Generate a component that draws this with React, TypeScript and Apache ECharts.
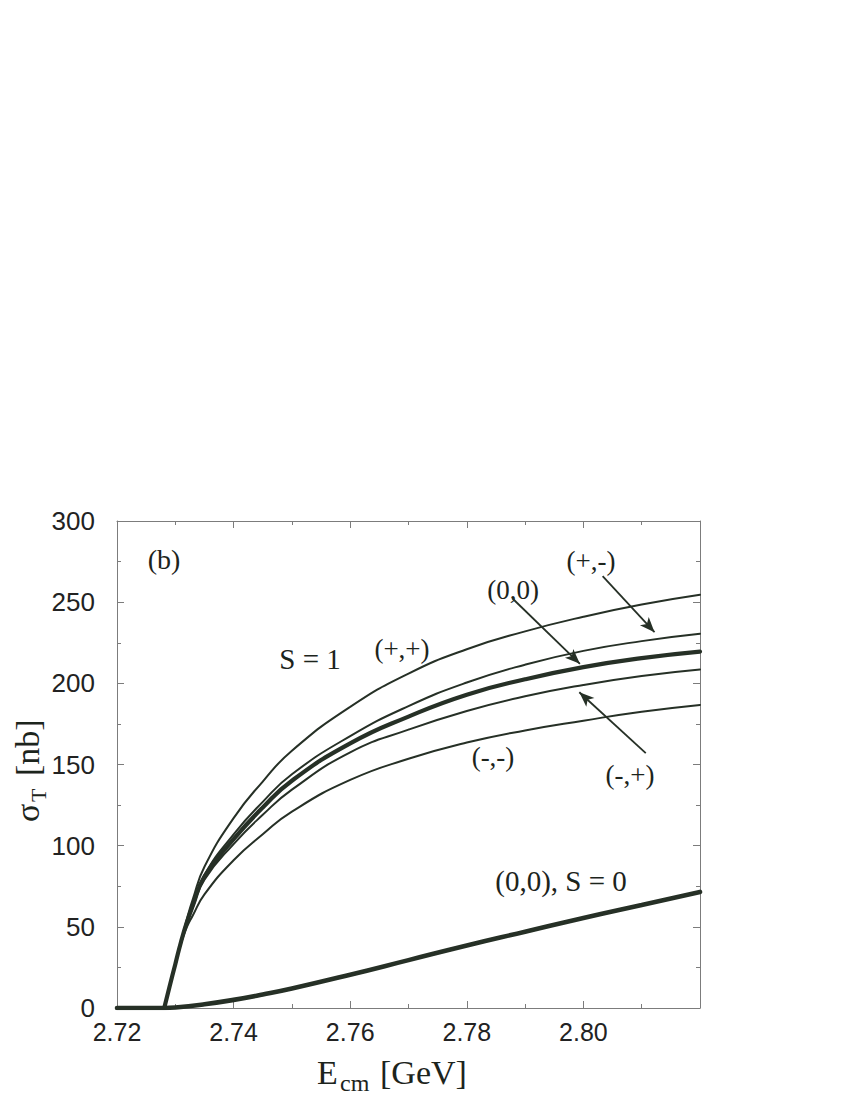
import React, { useEffect, useRef } from "react";
import * as echarts from "echarts";

// E_cm [GeV] sample points for the S = 1 curves (they start at threshold)
const energyS1 = [2.7281, 2.729, 2.73, 2.731, 2.732, 2.733, 2.735, 2.74, 2.745, 2.75, 2.76, 2.77, 2.78, 2.79, 2.8, 2.81, 2.82];
// sigma_T [nb] for each S = 1 curve
const sigmaPlusPlus = [0, 13, 27, 41, 55, 67, 87, 117, 139.5, 158.5, 185.5, 206, 221, 232, 241, 248.5, 254.5];
const sigmaPlusMinus = [0, 13, 27, 41, 53.5, 63.5, 82, 107, 127, 144, 167.5, 186, 200.5, 211.5, 220, 226, 230.5];
const sigmaZeroZero = [0, 13, 27, 41, 53, 63, 81, 104, 123.5, 140, 163, 179.5, 193, 202.5, 210, 215.5, 219.5];
const sigmaMinusPlus = [0, 13, 27, 40.5, 52.5, 62, 79, 101, 119, 134.5, 157.5, 171.5, 183, 192, 199, 204.5, 208.5];
const sigmaMinusMinus = [0, 13, 26.5, 40, 50, 57, 70, 91, 107, 121, 140.5, 153.5, 163.5, 171, 177, 182.5, 186.7];

// S = 0 curve (includes the flat part below threshold)
const energyS0 = [2.72, 2.7281, 2.73, 2.735, 2.74, 2.745, 2.75, 2.76, 2.77, 2.78, 2.79, 2.8, 2.81, 2.82];
const sigmaS0 = [0, 0, 0.3, 2.3, 5, 8.3, 12, 20.5, 29.5, 38.5, 47, 55.5, 63.5, 71.5];

// annotation arrows in data coordinates: [fromE, fromSigma, toE, toSigma]
const arrowPlusMinus = [2.8033, 266, 2.8122, 231.5];
const arrowZeroZero = [2.7878, 252.4, 2.7994, 212];
const arrowMinusPlus = [2.8107, 157, 2.7993, 194.5];

// axis ticks
const xTickLabels = ["2.72", "2.74", "2.76", "2.78", "2.80"];
const yTickLabels = ["0", "50", "100", "150", "200", "250", "300"];

const INK = "#263026";
const AXIS = "#7c7c7c";
const SERIF = '"Liberation Serif", "Times New Roman", serif';
const SANS = '"Liberation Sans", Arial, sans-serif';

const zip = (xs: number[], ys: number[]) => xs.map((x, i) => [x, ys[i]]);

export default function App() {
  const ref = useRef<HTMLDivElement>(null);
  useEffect(() => {
    if (!ref.current) return;
    const chart = echarts.init(ref.current, undefined, { renderer: "svg" });

    const lineSeries = (name: string, xs: number[], ys: number[], width: number, extra: any = {}) => ({
      name,
      type: "line",
      data: zip(xs, ys),
      showSymbol: false,
      smooth: 0.5,
      lineStyle: { color: INK, width, cap: "round", join: "round" },
      itemStyle: { color: INK },
      silent: true,
      z: 3,
      ...extra,
    });

    const arrow = (a: number[]) => [
      { coord: [a[0], a[1]], symbol: "none" },
      { coord: [a[2], a[3]], symbol: "arrow" },
    ];

    const xLabel = (v: number) => {
      const s = v.toFixed(2);
      return xTickLabels.includes(s) ? s : "";
    };
    const yLabel = (v: number) => {
      const s = String(Math.round(v));
      return yTickLabels.includes(s) ? s : "";
    };

    const axisCommon = {
      axisLine: { show: true, onZero: false, lineStyle: { color: AXIS, width: 1 } },
      axisTick: { show: true, inside: true, length: 7, lineStyle: { color: AXIS, width: 1 } },
      minorTick: { show: true, splitNumber: 2, length: 4, lineStyle: { color: AXIS, width: 1 } },
      splitLine: { show: false },
      minorSplitLine: { show: false },
    };

    const annoText = (text: string, x: number, y: number, size = 27) => ({
      type: "text",
      x,
      y,
      silent: true,
      style: { text, font: `${size}px ${SERIF}`, fill: "#1c241c", align: "center", verticalAlign: "middle" },
    });

    chart.setOption({
      animation: false,
      backgroundColor: "#ffffff",
      grid: { left: 117, top: 521, width: 583, height: 487 },
      xAxis: [
        {
          type: "value",
          min: 2.72,
          max: 2.82,
          interval: 0.02,
          ...axisCommon,
          axisLabel: {
            show: true,
            margin: 11,
            formatter: xLabel,
            fontFamily: SANS,
            fontSize: 25,
            color: "#222222",
            showMaxLabel: false,
          },
        },
        {
          type: "value",
          position: "top",
          min: 2.72,
          max: 2.82,
          interval: 0.02,
          ...axisCommon,
          axisLabel: { show: false },
        },
      ],
      yAxis: [
        {
          type: "value",
          min: 0,
          max: 300,
          interval: 50,
          ...axisCommon,
          axisLabel: {
            show: true,
            margin: 22,
            formatter: yLabel,
            fontFamily: SANS,
            fontSize: 26,
            color: "#222222",
          },
        },
        {
          type: "value",
          position: "right",
          min: 0,
          max: 300,
          interval: 50,
          ...axisCommon,
          axisLabel: { show: false },
        },
      ],
      series: [
        lineSeries("(+,+)", energyS1, sigmaPlusPlus, 2),
        lineSeries("(+,-)", energyS1, sigmaPlusMinus, 2),
        lineSeries("(-,+)", energyS1, sigmaMinusPlus, 2),
        lineSeries("(-,-)", energyS1, sigmaMinusMinus, 2),
        lineSeries("(0,0)", energyS1, sigmaZeroZero, 4.2),
        lineSeries("(0,0), S = 0", energyS0, sigmaS0, 4.6, {
          markLine: {
            silent: true,
            animation: false,
            symbol: ["none", "arrow"],
            symbolSize: [9, 15],
            label: { show: false },
            lineStyle: { color: INK, width: 1.8, type: "solid" },
            data: [arrow(arrowPlusMinus), arrow(arrowZeroZero), arrow(arrowMinusPlus)],
          },
        }),
      ],
      graphic: [
        annoText("(b)", 164, 559, 28),
        annoText("S = 1", 310, 659, 29),
        annoText("(+,+)", 402, 649),
        annoText("(+,-)", 591, 561),
        annoText("(0,0)", 513, 590),
        annoText("(-,-)", 493, 757),
        annoText("(-,+)", 630, 775),
        annoText("(0,0), S = 0", 561, 881, 29),
        // x-axis title: E_cm [GeV]
        {
          type: "group",
          silent: true,
          children: [
            { type: "text", x: 317, y: 1072, style: { text: "E", font: `34px ${SERIF}`, fill: "#1c241c", align: "left", verticalAlign: "middle" } },
            { type: "text", x: 340, y: 1083, style: { text: "cm", font: `24px ${SERIF}`, fill: "#1c241c", align: "left", verticalAlign: "middle" } },
            { type: "text", x: 380, y: 1072, style: { text: "[GeV]", font: `34px ${SERIF}`, fill: "#1c241c", align: "left", verticalAlign: "middle" } },
          ],
        },
        // y-axis title: sigma_T [nb]
        {
          type: "group",
          x: 27,
          y: 822,
          rotation: Math.PI / 2,
          silent: true,
          children: [
            { type: "text", x: 0, y: 0, style: { text: "σ", font: `34px ${SERIF}`, fill: "#1c241c", align: "left", verticalAlign: "middle" } },
            { type: "text", x: 20, y: 11, style: { text: "T", font: `22px ${SERIF}`, fill: "#1c241c", align: "left", verticalAlign: "middle" } },
            { type: "text", x: 46, y: 0, style: { text: "[nb]", font: `34px ${SERIF}`, fill: "#1c241c", align: "left", verticalAlign: "middle" } },
          ],
        },
      ],
    });

    return () => chart.dispose();
  }, []);

  return <div ref={ref} style={{ position: "absolute", left: 0, top: 0, width: 850, height: 1100 }} />;
}
